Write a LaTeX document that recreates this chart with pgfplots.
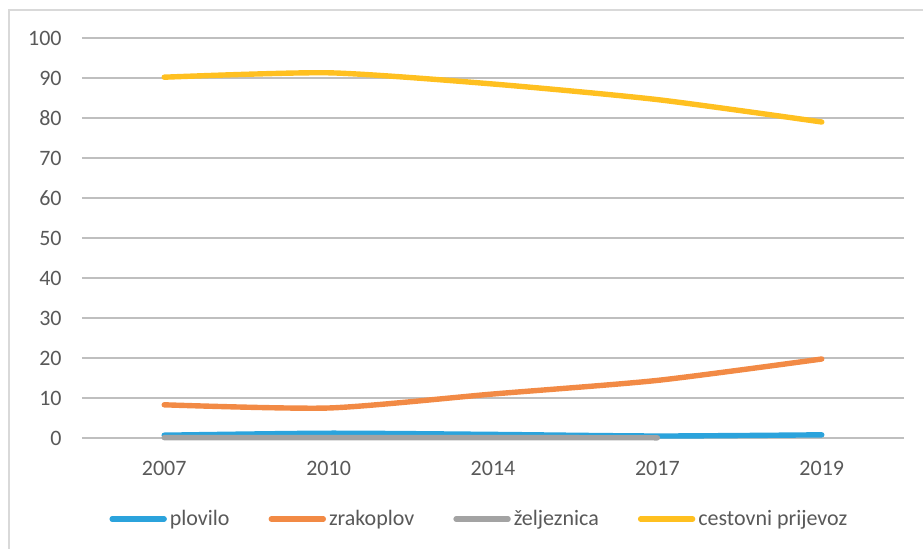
\documentclass[border=0pt]{standalone}
\usepackage{fontspec}
\setmainfont{Carlito}
\usepackage{pgfplots}
\pgfplotsset{compat=1.18}
\definecolor{cblue}{HTML}{2BA3DC}
\definecolor{corange}{HTML}{F28A45}
\definecolor{cgray}{HTML}{A3A3A3}
\definecolor{cyellow}{HTML}{FFC020}
\definecolor{grid}{HTML}{D9D9D9}
\definecolor{txt}{HTML}{595959}
\begin{document}
\begin{tikzpicture}
\useasboundingbox (0,0) rectangle (461.5pt,274pt);
\draw[grid, line width=0.9pt] (4.5pt,-2pt) -- (4.5pt,269pt) -- (464pt,269pt);
\begin{axis}[
  at={(41pt,55pt)}, anchor=south west,
  scale only axis, width=411pt, height=200pt,
  xmin=-0.5, xmax=4.5, ymin=0, ymax=100,
  xtick={0,1,2,3,4}, xticklabels={2007,2010,2014,2017,2019},
  ytick={0,10,...,100},
  axis line style={draw=none},
  major tick length=0pt,
  tick style={draw=none},
  xmajorgrids=false,
  ymajorgrids=true, grid style={grid, line width=0.8pt},
  font=\fontsize{11pt}{13pt}\selectfont,
  tick label style={text=txt},
  /pgf/number format/assume math mode=true,
  yticklabel style={anchor=east, inner sep=0pt, xshift=-10pt},
  xticklabel style={anchor=base, inner sep=0pt, yshift=-18.5pt},
  clip=false,
  legend columns=4,
  legend style={draw=none, at={(0.484,-0.2025)}, anchor=center,
    font=\fontsize{11pt}{13pt}\selectfont, text=txt,
    /tikz/every even column/.append style={column sep=18pt},
    inner sep=0pt, nodes={inner sep=1.5pt}},
  legend image code/.code={\draw[#1, line width=2.7pt, line cap=round] (0pt,0pt) -- (26pt,0pt);},
  every axis plot/.append style={line width=2.7pt, line cap=round, smooth, tension=0.4},
]
\addplot[cblue] coordinates {(0,0.7) (1,1.2) (2,0.9) (3,0.5) (4,0.8)};
\addlegendentry{plovilo}
\addplot[corange] coordinates {(0,8.3) (1,7.5) (2,11.0) (3,14.4) (4,19.75)};
\addlegendentry{zrakoplov}
\addplot[cgray] coordinates {(0,0.1) (1,0.1) (2,0.1) (3,0.05)};
\addlegendentry{željeznica}
\addplot[cyellow] coordinates {(0,90.2) (1,91.3) (2,88.5) (3,84.6) (4,79.0)};
\addlegendentry{cestovni prijevoz}
\end{axis}
\end{tikzpicture}
\end{document}
